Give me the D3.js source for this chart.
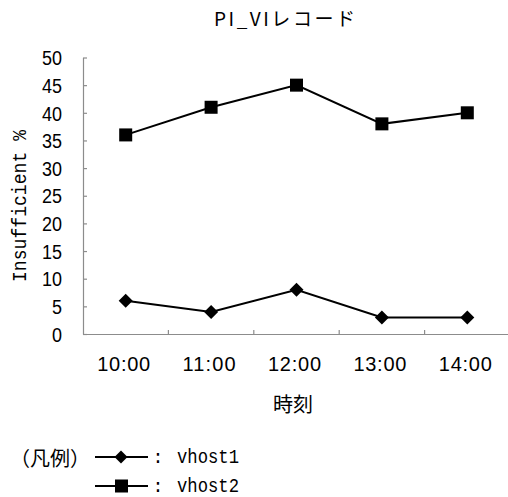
<!DOCTYPE html>
<html>
<head>
<meta charset="utf-8">
<script src="https://cdn.jsdelivr.net/npm/d3@7"></script>
<style>
  html, body { margin: 0; padding: 0; background: #fff; }
  svg { display: block; }
</style>
</head>
<body>
<svg id="chart" width="508" height="497"></svg>
<script>
// Time slots along the horizontal axis
const categories = ["10:00", "11:00", "12:00", "13:00", "14:00"];
// Insufficient % per host
const vhost1 = [6, 4, 8, 3, 3];
const vhost2 = [36, 41, 45, 38, 40];
// Vertical axis ticks
const yTicks = [0, 5, 10, 15, 20, 25, 30, 35, 40, 45, 50];
const seriesNames = ["vhost1", "vhost2"];

const svg = d3.select("#chart");
const plot = { left: 83, right: 510, top: 57.5, bottom: 334 };
const axisColor = "#8c8c8c";
const latin = "'Liberation Sans', Arial, sans-serif";
const mono = "'Liberation Mono', 'DejaVu Sans Mono', monospace";
const cjk = "'Noto Sans CJK JP', 'Noto Sans', sans-serif";

const x = d3.scaleBand().domain(categories).range([plot.left, plot.right]);
const y = d3.scaleLinear().domain([0, 50]).range([plot.bottom, plot.top]);

// Title
svg.append("text")
  .attr("x", 214).attr("y", 26)
  .attr("font-family", cjk).attr("font-size", 19)
  .attr("textLength", 141).attr("lengthAdjust", "spacing")
  .text("PI_VIレコード");

// Y axis with inward ticks
const yAxis = svg.append("g")
  .attr("transform", `translate(${plot.left},0)`)
  .call(d3.axisLeft(y).tickValues(yTicks).tickSizeInner(-4).tickSizeOuter(0).tickPadding(21));
yAxis.select(".domain").attr("stroke", axisColor).attr("stroke-width", 1.2);
yAxis.selectAll(".tick line").attr("stroke", axisColor).attr("stroke-width", 1.2);
yAxis.selectAll(".tick text")
  .attr("font-family", latin).attr("font-size", 20).attr("fill", "#000")
  .attr("dy", "0.36em")
  .attr("textLength", d => String(d).length * 10)
  .attr("lengthAdjust", "spacingAndGlyphs");

// X axis: labels centred in each slot, ticks on slot boundaries
const xAxis = svg.append("g")
  .attr("transform", `translate(0,${plot.bottom})`)
  .call(d3.axisBottom(x).tickSize(0).tickPadding(23).tickSizeOuter(0));
xAxis.select(".domain").attr("stroke", axisColor).attr("stroke-width", 1.2);
xAxis.selectAll(".tick text")
  .attr("font-family", latin).attr("font-size", 20).attr("fill", "#000")
  .attr("x", -2)
  .attr("textLength", 53).attr("lengthAdjust", "spacing");
xAxis.selectAll(".boundary")
  .data(categories.slice(1))
  .join("line")
  .attr("class", "boundary")
  .attr("x1", d => x(d)).attr("x2", d => x(d))
  .attr("y1", 0).attr("y2", -4)
  .attr("stroke", axisColor).attr("stroke-width", 1.2);

// Axis titles
svg.append("text")
  .attr("transform", "translate(20,206) rotate(-90)")
  .attr("text-anchor", "middle").attr("dominant-baseline", "central")
  .attr("font-family", mono).attr("font-size", 20)
  .attr("textLength", 152).attr("lengthAdjust", "spacingAndGlyphs")
  .text("Insufficient %");

svg.append("text")
  .attr("x", 293).attr("y", 403)
  .attr("text-anchor", "middle").attr("dominant-baseline", "central")
  .attr("font-family", cjk).attr("font-size", 20)
  .text("時刻");

// Series lines and markers
const cx = d => x(d) + x.bandwidth() / 2;
const line = d3.line().x(d => cx(d.c)).y(d => y(d.v));
const diamond = s => `M0,${-s}L${s},0L0,${s}L${-s},0Z`;

function drawSeries(values, kind) {
  const pts = values.map((v, i) => ({ c: categories[i], v }));
  svg.append("path").datum(pts)
    .attr("d", line).attr("fill", "none")
    .attr("stroke", "#000").attr("stroke-width", 2);
  const g = svg.append("g");
  if (kind === "diamond") {
    g.selectAll("path").data(pts).join("path")
      .attr("transform", d => `translate(${cx(d.c)},${y(d.v)})`)
      .attr("d", diamond(7)).attr("fill", "#000");
  } else {
    g.selectAll("rect").data(pts).join("rect")
      .attr("x", d => cx(d.c) - 6.5).attr("y", d => y(d.v) - 6.5)
      .attr("width", 13).attr("height", 13).attr("fill", "#000");
  }
}
drawSeries(vhost1, "diamond");
drawSeries(vhost2, "square");

// Legend
svg.append("text")
  .attr("x", 10).attr("y", 457).attr("dominant-baseline", "central")
  .attr("font-family", cjk).attr("font-size", 20)
  .text("（凡例）");

const legendRows = [
  { name: seriesNames[0], kind: "diamond", y: 457 },
  { name: seriesNames[1], kind: "square", y: 486 }
];
legendRows.forEach(r => {
  svg.append("line")
    .attr("x1", 95).attr("x2", 148).attr("y1", r.y).attr("y2", r.y)
    .attr("stroke", "#000").attr("stroke-width", 2);
  if (r.kind === "diamond") {
    svg.append("path").attr("transform", `translate(121,${r.y})`)
      .attr("d", diamond(6.5)).attr("fill", "#000");
  } else {
    svg.append("rect").attr("x", 115).attr("y", r.y - 6.5)
      .attr("width", 13).attr("height", 13).attr("fill", "#000");
  }
  svg.append("text")
    .attr("x", 158).attr("y", r.y).attr("dy", "0.3em")
    .attr("text-anchor", "middle")
    .attr("font-family", mono).attr("font-size", 19)
    .text(":");
  svg.append("text")
    .attr("x", 177).attr("y", r.y).attr("dy", "0.3em")
    .attr("font-family", mono).attr("font-size", 20)
    .attr("textLength", 62).attr("lengthAdjust", "spacingAndGlyphs")
    .text(r.name);
});
</script>
</body>
</html>
